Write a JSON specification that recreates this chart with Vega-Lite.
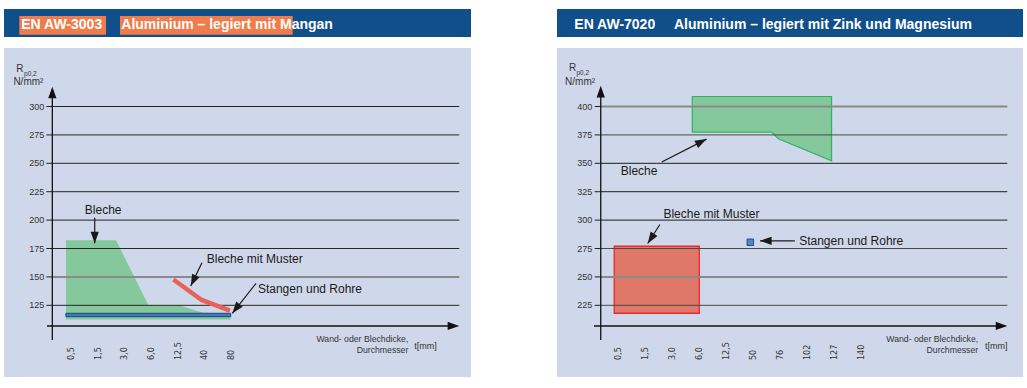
{
  "$schema": "https://vega.github.io/schema/vega-lite/v6.json",
  "background": "white",
  "padding": {"left": 4, "top": 9, "right": 0, "bottom": 0},
  "autosize": {"type": "pad"},
  "config": {"view": {"stroke": null}, "font": "Liberation Sans"},
  "datasets": {
    "gridL": [{"v": 125}, {"v": 150}, {"v": 175}, {"v": 200}, {"v": 225}, {"v": 250}, {"v": 275}, {"v": 300}],
    "gridR": [{"v": 225}, {"v": 250}, {"v": 275}, {"v": 300}, {"v": 325}, {"v": 350}, {"v": 375}, {"v": 400}],
    "ticksL": [{"i": 0, "t": "0,5"}, {"i": 1, "t": "1,5"}, {"i": 2, "t": "3,0"}, {"i": 3, "t": "6,0"}, {"i": 4, "t": "12,5"}, {"i": 5, "t": "40"}, {"i": 6, "t": "80"}],
    "ticksR": [{"i": 0, "t": "0,5"}, {"i": 1, "t": "1,5"}, {"i": 2, "t": "3,0"}, {"i": 3, "t": "6,0"}, {"i": 4, "t": "12,5"}, {"i": 5, "t": "50"}, {"i": 6, "t": "76"}, {"i": 7, "t": "102"}, {"i": 8, "t": "127"}, {"i": 9, "t": "140"}],
    "blecheL": [
      {"t": -0.19, "top": 182.3, "bottom": 112.5},
      {"t": 1.69, "top": 182.3, "bottom": 112.5},
      {"t": 2.90, "top": 125.3, "bottom": 112.5},
      {"t": 4.02, "top": 125.3, "bottom": 112.5},
      {"t": 4.96, "top": 118.5, "bottom": 112.5},
      {"t": 5.99, "top": 117.5, "bottom": 112.5}
    ],
    "stangenL": [{"from": -0.19, "to": 5.99, "low": 115, "high": 118}],
    "musterL": [{"t": 3.84, "v": 147.7}, {"t": 4.90, "v": 129.7}, {"t": 5.96, "v": 120.4}],
    "blecheR": [
      {"t": 2.74, "top": 408.8, "bottom": 377.5},
      {"t": 5.68, "top": 408.8, "bottom": 377.5},
      {"t": 5.93, "top": 408.8, "bottom": 371.6},
      {"t": 7.90, "top": 408.8, "bottom": 352.2}
    ],
    "musterR": [{"from": -0.15, "to": 3.0, "low": 218, "high": 277}],
    "stangenR": [{"t": 4.89, "v": 280.5}],
    "notesL": [
      {"label": "Bleche", "x": 0.52, "y": 205.7, "x1": 0.89, "y1": 202.1, "x2": 0.89, "y2": 179.6, "heading": 180},
      {"label": "Bleche mit Muster", "x": 5.09, "y": 162.6, "x1": 4.91, "y1": 162.5, "x2": 4.49, "y2": 142.0, "heading": 206},
      {"label": "Stangen und Rohre", "x": 7.01, "y": 136.2, "x1": 6.94, "y1": 144.4, "x2": 6.05, "y2": 118.0, "heading": 218}
    ],
    "notesR": [
      {"label": "Bleche", "x": 0.09, "y": 339.6, "x1": 1.61, "y1": 351.1, "x2": 3.27, "y2": 371.3, "heading": 63},
      {"label": "Bleche mit Muster", "x": 1.67, "y": 301.5, "x1": 1.54, "y1": 296.1, "x2": 1.09, "y2": 279.4, "heading": 213},
      {"label": "Stangen und Rohre", "x": 6.70, "y": 278.0, "x1": 6.54, "y1": 281.8, "x2": 5.25, "y2": 281.8, "heading": 270}
    ]
  },
  "spacing": 86,
  "hconcat": [
    {
      "spacing": 11,
      "vconcat": [
        {
          "width": 467, "height": 28,
          "view": {"fill": "#114f8b"},
          "data": {"values": [{"code": "EN AW-3003", "name": "Aluminium – legiert mit Mangan"}]},
          "layer": [
            {"mark": {"type": "rect", "color": "#f07b4b"},
             "encoding": {"x": {"datum": 3.28, "type": "quantitative", "scale": {"domain": [0, 100], "nice": false, "zero": false}, "axis": null},
                          "x2": {"datum": 21.84},
                          "y": {"datum": 8.2, "type": "quantitative", "scale": {"domain": [0, 100], "nice": false, "zero": false}, "axis": null},
                          "y2": {"datum": 75}}},
            {"mark": {"type": "rect", "color": "#f07b4b"},
             "encoding": {"x": {"datum": 24.84, "type": "quantitative", "axis": null}, "x2": {"datum": 61.82},
                          "y": {"datum": 8.2, "type": "quantitative", "axis": null}, "y2": {"datum": 75}}},
            {"mark": {"type": "text", "align": "left", "baseline": "alphabetic", "color": "white", "fontWeight": "bold", "fontSize": 14, "font": "Liberation Sans"},
             "encoding": {"x": {"datum": 3.70, "type": "quantitative", "axis": null}, "y": {"datum": 27.5, "type": "quantitative", "axis": null}, "text": {"field": "code"}}},
            {"mark": {"type": "text", "align": "left", "baseline": "alphabetic", "color": "white", "fontWeight": "bold", "fontSize": 14, "font": "Liberation Sans"},
             "encoding": {"x": {"datum": 25.12, "type": "quantitative", "axis": null}, "y": {"datum": 27.5, "type": "quantitative", "axis": null}, "text": {"field": "name"}}}
          ]
        },
        {
          "width": 467, "height": 329,
          "view": {"fill": "#cfd8ea"},
          "data": {"values": [{"panel": "EN AW-3003"}]},
          "layer": [
            {"data": {"name": "blecheL"}, "mark": {"type": "area", "color": "#84c89b", "opacity": 1},
             "encoding": {
               "x": {"field": "t", "type": "quantitative", "scale": {"domain": [-2.512, 15.0], "nice": false, "zero": false}, "axis": null},
               "y": {"field": "top", "type": "quantitative", "scale": {"domain": [61.9, 351.5], "nice": false, "zero": false}, "axis": null},
               "y2": {"field": "bottom"}}},
            {"data": {"name": "gridL"}, "transform": [{"filter": "datum.v != 150"}],
             "mark": {"type": "rule", "color": "#262626", "strokeWidth": 1},
             "encoding": {"x": {"datum": -0.70, "type": "quantitative", "axis": null}, "x2": {"datum": 14.56}, "y": {"field": "v", "type": "quantitative", "axis": null}}},
            {"data": {"name": "gridL"}, "transform": [{"filter": "datum.v == 150"}],
             "mark": {"type": "rule", "color": "#8a8a8a", "strokeWidth": 2},
             "encoding": {"x": {"datum": -0.70, "type": "quantitative", "axis": null}, "x2": {"datum": 14.56}, "y": {"field": "v", "type": "quantitative", "axis": null}}},
            {"data": {"name": "gridL"},
             "mark": {"type": "rule", "color": "#222222", "strokeWidth": 1},
             "encoding": {"x": {"datum": -0.926, "type": "quantitative", "axis": null}, "x2": {"datum": -0.70}, "y": {"field": "v", "type": "quantitative", "axis": null}}},
            {"data": {"name": "gridL"},
             "mark": {"type": "text", "align": "right", "baseline": "middle", "fontSize": 9, "color": "#333333", "font": "Liberation Sans"},
             "encoding": {"x": {"datum": -1.0, "type": "quantitative", "axis": null}, "y": {"field": "v", "type": "quantitative", "axis": null}, "text": {"field": "v", "type": "quantitative", "format": "d"}}},
            {"data": {"name": "stangenL"}, "mark": {"type": "rect", "fill": "#4479b8", "stroke": "#1c4a85", "strokeWidth": 1},
             "encoding": {"x": {"field": "from", "type": "quantitative", "axis": null}, "x2": {"field": "to"}, "y": {"field": "low", "type": "quantitative", "axis": null}, "y2": {"field": "high"}}},
            {"data": {"name": "musterL"}, "mark": {"type": "line", "color": "#e8625c", "strokeWidth": 4.5, "strokeCap": "butt"},
             "encoding": {"x": {"field": "t", "type": "quantitative", "axis": null}, "y": {"field": "v", "type": "quantitative", "axis": null}}},
            {"mark": {"type": "rule", "color": "#111111", "strokeWidth": 1.3},
             "encoding": {"x": {"datum": -0.70, "type": "quantitative", "axis": null}, "y": {"datum": 94.5, "type": "quantitative", "axis": null}, "y2": {"datum": 310}}},
            {"mark": {"type": "rule", "color": "#111111", "strokeWidth": 1.3},
             "encoding": {"x": {"datum": -0.90, "type": "quantitative", "axis": null}, "x2": {"datum": 14.4}, "y": {"datum": 106.8, "type": "quantitative", "axis": null}}},
            {"mark": {"type": "point", "shape": "M0,0L0.71,2L-0.71,2Z", "filled": true, "color": "#111111", "opacity": 1, "size": 135, "angle": 0},
             "encoding": {"x": {"datum": -0.70, "type": "quantitative", "axis": null}, "y": {"datum": 317.4, "type": "quantitative", "axis": null}}},
            {"mark": {"type": "point", "shape": "M0,0L0.71,2L-0.71,2Z", "filled": true, "color": "#111111", "opacity": 1, "size": 135, "angle": 90},
             "encoding": {"x": {"datum": 14.56, "type": "quantitative", "axis": null}, "y": {"datum": 106.8, "type": "quantitative", "axis": null}}},
            {"data": {"name": "notesL"}, "mark": {"type": "rule", "color": "#1a1a1a", "strokeWidth": 1.2},
             "encoding": {"x": {"field": "x1", "type": "quantitative", "axis": null}, "x2": {"field": "x2"}, "y": {"field": "y1", "type": "quantitative", "axis": null}, "y2": {"field": "y2"}}},
            {"data": {"name": "notesL"}, "mark": {"type": "point", "shape": "M0,0L0.71,2L-0.71,2Z", "filled": true, "color": "#1a1a1a", "opacity": 1, "size": 135},
             "encoding": {"x": {"field": "x2", "type": "quantitative", "axis": null}, "y": {"field": "y2", "type": "quantitative", "axis": null}, "angle": {"field": "heading", "type": "quantitative", "scale": null}}},
            {"data": {"name": "notesL"}, "mark": {"type": "text", "align": "left", "baseline": "alphabetic", "fontSize": 12, "color": "#1a1a1a", "font": "Liberation Sans"},
             "encoding": {"x": {"field": "x", "type": "quantitative", "axis": null}, "y": {"field": "y", "type": "quantitative", "axis": null}, "text": {"field": "label"}}},
            {"data": {"name": "ticksL"}, "mark": {"type": "text", "angle": 270, "align": "left", "baseline": "middle", "fontSize": 9, "color": "#333333", "font": "Liberation Sans Narrow, DejaVu Sans Condensed, Liberation Sans"},
             "encoding": {"x": {"field": "i", "type": "quantitative", "axis": null}, "y": {"datum": 76.8, "type": "quantitative", "axis": null}, "text": {"field": "t"}}},
            {"mark": {"type": "text", "align": "left", "baseline": "alphabetic", "fontSize": 10, "color": "#333333", "text": "R"},
             "encoding": {"x": {"datum": -2.05, "type": "quantitative", "axis": null}, "y": {"datum": 330.0, "type": "quantitative", "axis": null}}},
            {"mark": {"type": "text", "align": "left", "baseline": "alphabetic", "fontSize": 6.5, "color": "#333333", "text": "p0,2"},
             "encoding": {"x": {"datum": -1.76, "type": "quantitative", "axis": null}, "y": {"datum": 327.0, "type": "quantitative", "axis": null}}},
            {"mark": {"type": "text", "align": "left", "baseline": "alphabetic", "fontSize": 10, "color": "#333333", "text": "N/mm²"},
             "encoding": {"x": {"datum": -2.16, "type": "quantitative", "axis": null}, "y": {"datum": 318.6, "type": "quantitative", "axis": null}}},
            {"mark": {"type": "text", "align": "right", "baseline": "alphabetic", "fontSize": 8.7, "color": "#333333", "text": "Wand- oder Blechdicke,"},
             "encoding": {"x": {"datum": 12.65, "type": "quantitative", "axis": null}, "y": {"datum": 92.3, "type": "quantitative", "axis": null}}},
            {"mark": {"type": "text", "align": "right", "baseline": "alphabetic", "fontSize": 8.7, "color": "#333333", "text": "Durchmesser"},
             "encoding": {"x": {"datum": 12.65, "type": "quantitative", "axis": null}, "y": {"datum": 82.7, "type": "quantitative", "axis": null}}},
            {"mark": {"type": "text", "align": "left", "baseline": "alphabetic", "fontSize": 9, "color": "#333333", "text": "t[mm]"},
             "encoding": {"x": {"datum": 12.87, "type": "quantitative", "axis": null}, "y": {"datum": 86.5, "type": "quantitative", "axis": null}}}
          ]
        }
      ]
    },
    {
      "spacing": 11,
      "vconcat": [
        {
          "width": 466, "height": 28,
          "view": {"fill": "#114f8b"},
          "data": {"values": [{"code": "EN AW-7020", "name": "Aluminium – legiert mit Zink und Magnesium"}]},
          "layer": [
            {"mark": {"type": "text", "align": "left", "baseline": "alphabetic", "color": "white", "fontWeight": "bold", "fontSize": 14, "font": "Liberation Sans"},
             "encoding": {"x": {"datum": 3.71, "type": "quantitative", "scale": {"domain": [0, 100], "nice": false, "zero": false}, "axis": null},
                          "y": {"datum": 27.5, "type": "quantitative", "scale": {"domain": [0, 100], "nice": false, "zero": false}, "axis": null},
                          "text": {"field": "code"}}},
            {"mark": {"type": "text", "align": "left", "baseline": "alphabetic", "color": "white", "fontWeight": "bold", "fontSize": 14, "font": "Liberation Sans"},
             "encoding": {"x": {"datum": 25.11, "type": "quantitative", "axis": null}, "y": {"datum": 27.5, "type": "quantitative", "axis": null}, "text": {"field": "name"}}}
          ]
        },
        {
          "width": 466, "height": 329,
          "view": {"fill": "#cfd8ea"},
          "data": {"values": [{"panel": "EN AW-7020"}]},
          "layer": [
            {"data": {"name": "musterR"}, "mark": {"type": "rect", "fill": "#e0786a", "stroke": "#e8282a", "strokeWidth": 1.3},
             "encoding": {
               "x": {"field": "from", "type": "quantitative", "scale": {"domain": [-2.27, 14.99], "nice": false, "zero": false}, "axis": null},
               "x2": {"field": "to"},
               "y": {"field": "low", "type": "quantitative", "scale": {"domain": [161.9, 451.5], "nice": false, "zero": false}, "axis": null},
               "y2": {"field": "high"}}},
            {"data": {"name": "blecheR"}, "mark": {"type": "area", "color": "#84c89b", "stroke": "#2fb560", "strokeWidth": 1.2, "opacity": 1},
             "encoding": {"x": {"field": "t", "type": "quantitative", "axis": null}, "y": {"field": "top", "type": "quantitative", "axis": null}, "y2": {"field": "bottom"}}},
            {"data": {"name": "gridR"}, "transform": [{"filter": "datum.v == 300 || datum.v == 325 || datum.v == 350"}],
             "mark": {"type": "rule", "color": "#1e1e1e", "strokeWidth": 1},
             "encoding": {"x": {"datum": -0.65, "type": "quantitative", "axis": null}, "x2": {"datum": 14.41}, "y": {"field": "v", "type": "quantitative", "axis": null}}},
            {"data": {"name": "gridR"}, "transform": [{"filter": "datum.v == 225 || datum.v == 275 || datum.v == 375"}],
             "mark": {"type": "rule", "color": "#4a4a4a", "strokeWidth": 1},
             "encoding": {"x": {"datum": -0.65, "type": "quantitative", "axis": null}, "x2": {"datum": 14.41}, "y": {"field": "v", "type": "quantitative", "axis": null}}},
            {"data": {"name": "gridR"}, "transform": [{"filter": "datum.v == 250 || datum.v == 400"}],
             "mark": {"type": "rule", "color": "#8a8a8a", "strokeWidth": 2},
             "encoding": {"x": {"datum": -0.65, "type": "quantitative", "axis": null}, "x2": {"datum": 14.41}, "y": {"field": "v", "type": "quantitative", "axis": null}}},
            {"data": {"name": "gridR"},
             "mark": {"type": "rule", "color": "#222222", "strokeWidth": 1},
             "encoding": {"x": {"datum": -0.874, "type": "quantitative", "axis": null}, "x2": {"datum": -0.65}, "y": {"field": "v", "type": "quantitative", "axis": null}}},
            {"data": {"name": "gridR"},
             "mark": {"type": "text", "align": "right", "baseline": "middle", "fontSize": 9, "color": "#333333", "font": "Liberation Sans"},
             "encoding": {"x": {"datum": -0.963, "type": "quantitative", "axis": null}, "y": {"field": "v", "type": "quantitative", "axis": null}, "text": {"field": "v", "type": "quantitative", "format": "d"}}},
            {"data": {"name": "stangenR"}, "mark": {"type": "point", "shape": "square", "filled": true, "fill": "#5b82c2", "stroke": "#1d4f8f", "strokeWidth": 1, "opacity": 1, "size": 42},
             "encoding": {"x": {"field": "t", "type": "quantitative", "axis": null}, "y": {"field": "v", "type": "quantitative", "axis": null}}},
            {"mark": {"type": "rule", "color": "#111111", "strokeWidth": 1.3},
             "encoding": {"x": {"datum": -0.65, "type": "quantitative", "axis": null}, "y": {"datum": 194.5, "type": "quantitative", "axis": null}, "y2": {"datum": 410}}},
            {"mark": {"type": "rule", "color": "#111111", "strokeWidth": 1.3},
             "encoding": {"x": {"datum": -0.90, "type": "quantitative", "axis": null}, "x2": {"datum": 14.2}, "y": {"datum": 206.8, "type": "quantitative", "axis": null}}},
            {"mark": {"type": "point", "shape": "M0,0L0.71,2L-0.71,2Z", "filled": true, "color": "#111111", "opacity": 1, "size": 135, "angle": 0},
             "encoding": {"x": {"datum": -0.65, "type": "quantitative", "axis": null}, "y": {"datum": 418.2, "type": "quantitative", "axis": null}}},
            {"mark": {"type": "point", "shape": "M0,0L0.71,2L-0.71,2Z", "filled": true, "color": "#111111", "opacity": 1, "size": 135, "angle": 90},
             "encoding": {"x": {"datum": 14.41, "type": "quantitative", "axis": null}, "y": {"datum": 206.8, "type": "quantitative", "axis": null}}},
            {"data": {"name": "notesR"}, "mark": {"type": "rule", "color": "#1a1a1a", "strokeWidth": 1.2},
             "encoding": {"x": {"field": "x1", "type": "quantitative", "axis": null}, "x2": {"field": "x2"}, "y": {"field": "y1", "type": "quantitative", "axis": null}, "y2": {"field": "y2"}}},
            {"data": {"name": "notesR"}, "mark": {"type": "point", "shape": "M0,0L0.71,2L-0.71,2Z", "filled": true, "color": "#1a1a1a", "opacity": 1, "size": 135},
             "encoding": {"x": {"field": "x2", "type": "quantitative", "axis": null}, "y": {"field": "y2", "type": "quantitative", "axis": null}, "angle": {"field": "heading", "type": "quantitative", "scale": null}}},
            {"data": {"name": "notesR"}, "mark": {"type": "text", "align": "left", "baseline": "alphabetic", "fontSize": 12, "color": "#1a1a1a", "font": "Liberation Sans"},
             "encoding": {"x": {"field": "x", "type": "quantitative", "axis": null}, "y": {"field": "y", "type": "quantitative", "axis": null}, "text": {"field": "label"}}},
            {"data": {"name": "ticksR"}, "mark": {"type": "text", "angle": 270, "align": "left", "baseline": "middle", "fontSize": 9, "color": "#333333", "font": "Liberation Sans Narrow, DejaVu Sans Condensed, Liberation Sans"},
             "encoding": {"x": {"field": "i", "type": "quantitative", "axis": null}, "y": {"datum": 176.8, "type": "quantitative", "axis": null}, "text": {"field": "t"}}},
            {"mark": {"type": "text", "align": "left", "baseline": "alphabetic", "fontSize": 10, "color": "#333333", "text": "R"},
             "encoding": {"x": {"datum": -1.83, "type": "quantitative", "axis": null}, "y": {"datum": 430.9, "type": "quantitative", "axis": null}}},
            {"mark": {"type": "text", "align": "left", "baseline": "alphabetic", "fontSize": 6.5, "color": "#333333", "text": "p0,2"},
             "encoding": {"x": {"datum": -1.55, "type": "quantitative", "axis": null}, "y": {"datum": 427.9, "type": "quantitative", "axis": null}}},
            {"mark": {"type": "text", "align": "left", "baseline": "alphabetic", "fontSize": 10, "color": "#333333", "text": "N/mm²"},
             "encoding": {"x": {"datum": -1.97, "type": "quantitative", "axis": null}, "y": {"datum": 418.6, "type": "quantitative", "axis": null}}},
            {"mark": {"type": "text", "align": "right", "baseline": "alphabetic", "fontSize": 8.7, "color": "#333333", "text": "Wand- oder Blechdicke,"},
             "encoding": {"x": {"datum": 13.33, "type": "quantitative", "axis": null}, "y": {"datum": 192.3, "type": "quantitative", "axis": null}}},
            {"mark": {"type": "text", "align": "right", "baseline": "alphabetic", "fontSize": 8.7, "color": "#333333", "text": "Durchmesser"},
             "encoding": {"x": {"datum": 13.33, "type": "quantitative", "axis": null}, "y": {"datum": 182.7, "type": "quantitative", "axis": null}}},
            {"mark": {"type": "text", "align": "left", "baseline": "alphabetic", "fontSize": 9, "color": "#333333", "text": "t[mm]"},
             "encoding": {"x": {"datum": 13.58, "type": "quantitative", "axis": null}, "y": {"datum": 186.5, "type": "quantitative", "axis": null}}}
          ]
        }
      ]
    }
  ]
}
